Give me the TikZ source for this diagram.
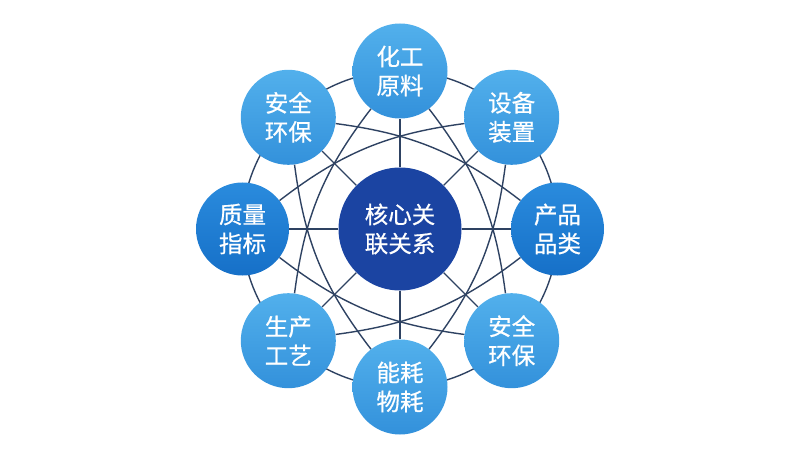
\documentclass[tikz,border=0pt]{standalone}
\usepackage{fontspec}
\newfontfamily\cjk[FakeBold=0.6]{Noto Sans CJK SC}
\usetikzlibrary{backgrounds}
\definecolor{lineC}{HTML}{2E4262}
\definecolor{lightT}{HTML}{52B0EC}
\definecolor{lightB}{HTML}{3391DB}
\definecolor{midT}{HTML}{2A8BDD}
\definecolor{midB}{HTML}{1670C8}
\definecolor{coreC}{HTML}{1B44A2}
\tikzset{
 base/.style={circle, inner sep=0pt, text=white, align=center, font=\cjk\fontsize{23.5}{29}\selectfont},
 outer/.style={base, minimum size=95pt, top color=lightT, bottom color=lightB},
 outerdark/.style={base, minimum size=93pt, top color=midT, bottom color=midB},
 core/.style={base, minimum size=123pt, fill=coreC},
 link/.style={draw=lineC, line width=1.4pt},
}
\begin{document}
\begin{tikzpicture}[x=1pt,y=-1pt]
\useasboundingbox (0,0) rectangle (800,449);
\node[core] (c) at (400,229) {核心关\\联关系};
\node[outer] (n0) at (400,71) {化工\\原料};
\node[outer] (n1) at (511.7,117.3) {设备\\装置};
\node[outerdark] (n2) at (557.5,229) {产品\\品类};
\node[outer] (n3) at (511.7,340.7) {安全\\环保};
\node[outer] (n4) at (400,387) {能耗\\物耗};
\node[outer] (n5) at (288.3,340.7) {生产\\工艺};
\node[outerdark] (n6) at (242.5,229) {质量\\指标};
\node[outer] (n7) at (288.3,117.3) {安全\\环保};
\begin{scope}[on background layer]
\draw[link] (c.center) circle[radius=158];
\foreach \i in {0,...,7} { \draw[link] (c) -- (n\i); }
\foreach \i in {0,...,7} { \pgfmathtruncatemacro\jj{mod(\i+3,8)} \draw[link] (n\i) to[bend left=15] (n\jj); }
\end{scope}
\end{tikzpicture}
\end{document}
